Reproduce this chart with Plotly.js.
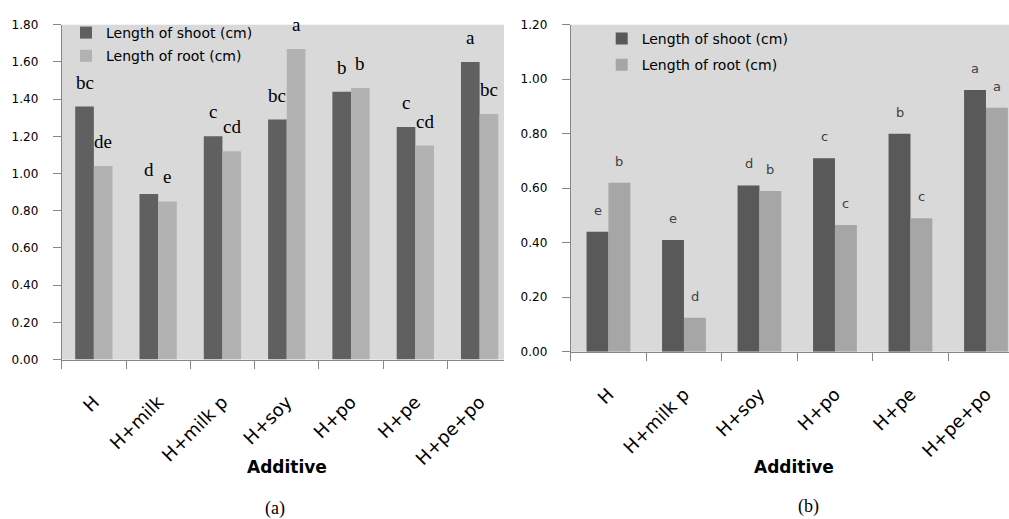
<!DOCTYPE html>
<html><head><meta charset="utf-8">
<script src="https://cdn.plot.ly/plotly-3.0.1.min.js"></script>
<style>html,body{margin:0;padding:0;background:#fff}#chart{width:1009px;height:519px}</style>
</head><body><div id="chart"></div>
<script>
// ---- data ----
const categoriesA = ["H", "H+milk", "H+milk p", "H+soy", "H+po", "H+pe", "H+pe+po"];
const shootA = [1.36, 0.89, 1.20, 1.29, 1.44, 1.25, 1.60];
const rootA = [1.04, 0.85, 1.12, 1.67, 1.46, 1.15, 1.32];
const shootLettersA = ["bc", "d", "c", "bc", "b", "c", "a"];
const rootLettersA = ["de", "e", "cd", "a", "b", "cd", "bc"];

const categoriesB = ["H", "H+milk p", "H+soy", "H+po", "H+pe", "H+pe+po"];
const shootB = [0.44, 0.41, 0.61, 0.71, 0.80, 0.96];
const rootB = [0.62, 0.125, 0.59, 0.465, 0.49, 0.895];
const shootLettersB = ["e", "e", "d", "c", "b", "a"];
const rootLettersB = ["b", "d", "b", "c", "c", "a"];

const seriesNames = ["Length of shoot (cm)", "Length of root (cm)"];
const axisTitle = "Additive";
const captions = ["(a)", "(b)"];

// ---- style ----
const W = 1009, H = 519;
const BARGAP = 0.42;
const half = (1 - BARGAP) / 4; // offset of each bar center from category center
const axisGray = "#868686";
const baseFont = "DejaVu Sans, Verdana, sans-serif";
const serif = "Liberation Serif, Times New Roman, serif";

const traces = [
  {type: "bar", x: categoriesA, y: shootA, name: seriesNames[0], marker: {color: "#606060"}, xaxis: "x", yaxis: "y", legend: "legend", legendgroup: "a1"},
  {type: "bar", x: categoriesA, y: rootA, name: seriesNames[1], marker: {color: "#b2b2b2"}, xaxis: "x", yaxis: "y", legend: "legend", legendgroup: "a2"},
  {type: "bar", x: categoriesB, y: shootB, name: seriesNames[0], marker: {color: "#595959"}, xaxis: "x2", yaxis: "y2", legend: "legend2", legendgroup: "b1"},
  {type: "bar", x: categoriesB, y: rootB, name: seriesNames[1], marker: {color: "#a6a6a6"}, xaxis: "x2", yaxis: "y2", legend: "legend2", legendgroup: "b2"}
];

const annotations = [];
function letters(vals, labs, sign, xref, yref, font) {
  vals.forEach((v, i) => {
    annotations.push({x: i + sign * half, y: v, xref: xref, yref: yref, text: labs[i],
      showarrow: false, xanchor: "center", yanchor: "bottom", yshift: 12, font: font});
  });
}
const fontA = {family: serif, size: 19, color: "#000"};
const fontB = {family: baseFont, size: 13, color: "#404040"};
letters(shootA, shootLettersA, -1, "x", "y", fontA);
letters(rootA, rootLettersA, 1, "x", "y", fontA);
letters(shootB, shootLettersB, -1, "x2", "y2", fontB);
letters(rootB, rootLettersB, 1, "x2", "y2", fontB);

// axis titles (placed below the rotated tick labels as in the original)
const titleFont = {family: baseFont, size: 17, color: "#000", weight: "bold"};
annotations.push({xref: "x domain", yref: "paper", x: 0.51, y: 1 - 467 / H, text: axisTitle, showarrow: false,
  xanchor: "center", yanchor: "middle", font: titleFont});
annotations.push({xref: "x2 domain", yref: "paper", x: 0.51, y: 1 - 467 / H, text: axisTitle, showarrow: false,
  xanchor: "center", yanchor: "middle", font: titleFont});

// panel captions
annotations.push({xref: "paper", yref: "paper", x: 275 / W, y: 1 - 508 / H, text: captions[0], showarrow: false,
  xanchor: "center", yanchor: "middle", font: {family: serif, size: 18, color: "#000"}});
annotations.push({xref: "paper", yref: "paper", x: 808 / W, y: 1 - 506 / H, text: captions[1], showarrow: false,
  xanchor: "center", yanchor: "middle", font: {family: serif, size: 18, color: "#000"}});

function xAxis(domain, range, anchor) {
  return {domain: domain, range: range, anchor: anchor, type: "category", showline: true, linecolor: axisGray, linewidth: 1,
    ticks: "outside", ticklen: 8, tickcolor: axisGray, tickson: "boundaries", tickangle: -45,
    ticklabelstandoff: 24, showgrid: false, zeroline: false, fixedrange: true,
    tickfont: {family: baseFont, size: 18, color: "#000"}};
}
function yAxis(domain, range, anchor) {
  return {domain: domain, range: range, anchor: anchor, showline: true, linecolor: axisGray, linewidth: 1,
    ticks: "outside", ticklen: 8, tickcolor: axisGray, dtick: 0.2, tickformat: ".2f",
    showgrid: false, zeroline: false, ticklabelstandoff: 12, fixedrange: true,
    tickfont: {family: baseFont, size: 12, color: "#000"}};
}

const layout = {
  width: W, height: H, margin: {l: 0, r: 0, t: 0, b: 0},
  paper_bgcolor: "#fff", plot_bgcolor: "#d9d9d9",
  barmode: "group", bargap: BARGAP, bargroupgap: 0, showlegend: true,
  xaxis: xAxis([61.7 / W, 504 / W], [-0.5, 6.379], "y"),
  yaxis: yAxis([1 - 359.5 / H, 1 - 24.7 / H], [0, 1.8], "x"),
  xaxis2: xAxis([570.7 / W, 1], [-0.5, 5.305], "y2"),
  yaxis2: yAxis([1 - 351.7 / H, 1 - 24.7 / H], [0, 1.2], "x2"),
  legend: {x: 66 / W, y: 1 - 17 / H, xanchor: "left", yanchor: "top", bgcolor: "rgba(0,0,0,0)",
    traceorder: "grouped", font: {family: baseFont, size: 14, color: "#000"}, tracegroupgap: 2},
  legend2: {x: 601.7 / W, y: 1 - 23 / H, xanchor: "left", yanchor: "top", bgcolor: "rgba(0,0,0,0)",
    traceorder: "grouped", font: {family: baseFont, size: 14, color: "#000"}, tracegroupgap: 5},
  annotations: annotations
};

Plotly.newPlot("chart", traces, layout, {displayModeBar: false, staticPlot: true});
</script>
</body></html>
